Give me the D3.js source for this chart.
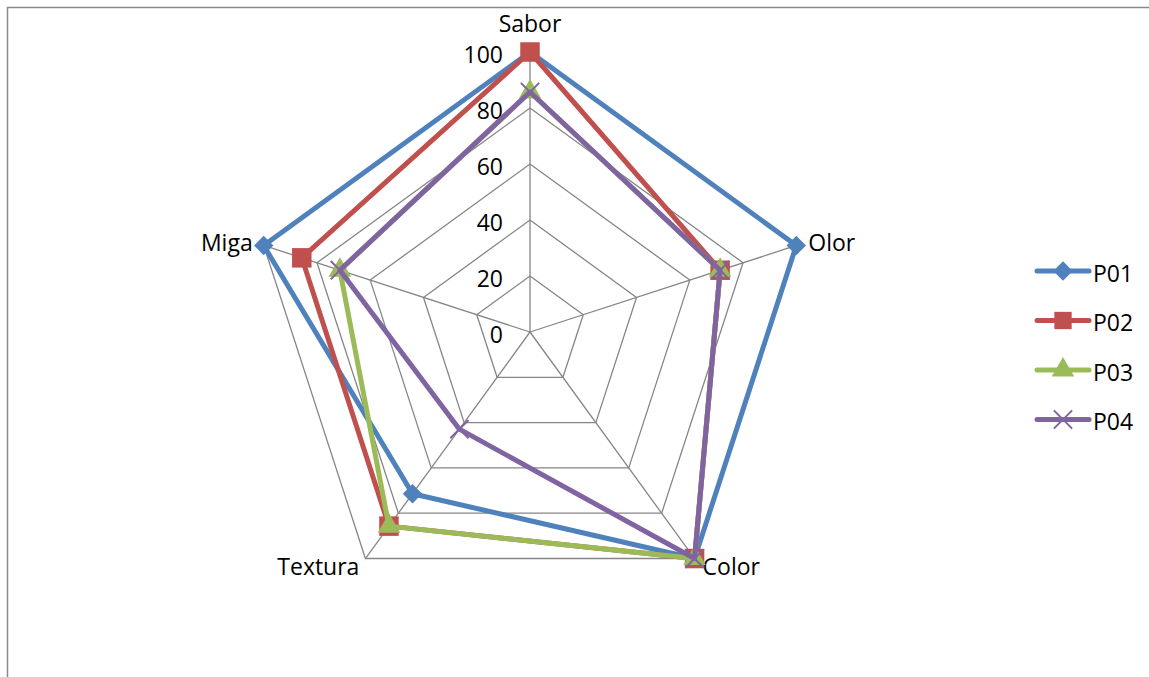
<!DOCTYPE html>
<html>
<head>
<meta charset="utf-8">
<script src="https://cdn.jsdelivr.net/npm/d3@7"></script>
<style>
  body { margin: 0; background: #fff; }
  svg text { font-family: "Open Sans", "Noto Sans", sans-serif; fill: #000; }
</style>
</head>
<body>
<div id="chart"></div>
<script>
// axes of the radar, clockwise from top
var categories = ["Sabor", "Olor", "Color", "Textura", "Miga"];
var tickValues = [0, 20, 40, 60, 80, 100];
var seriesNames = ["P01", "P02", "P03", "P04"];

var p01 = [100, 100, 100, 71.4, 100];
var p02 = [100, 71.4, 100, 85.7, 85.7];
var p03 = [85.7, 71.4, 100, 85.7, 71.4];
var p04 = [85.7, 71.4, 100, 42.9, 71.4];

var colors = ["#4F81BD", "#C0504D", "#9BBB59", "#8064A2"];
var symbols = [d3.symbolDiamond2, d3.symbolSquare, d3.symbolTriangle, d3.symbolX];

var width = 1149, height = 677;
var cx = 530, cy = 332, radius = 280;
var fontSize = 23;

var svg = d3.select("#chart")
  .append("svg")
    .attr("width", width)
    .attr("height", height);

// chart frame (runs off the page on right and bottom)
svg.append("rect")
  .attr("x", 7.5).attr("y", 7.5)
  .attr("width", 1200).attr("height", 700)
  .attr("fill", "none")
  .attr("stroke", "#8a8a8a")
  .attr("stroke-width", 1.5);

var r = d3.scaleLinear().domain([0, 100]).range([0, radius]);
var angle = d3.scalePoint().domain(categories).range([0, 2 * Math.PI * 4 / 5]);

function pt(cat, v) {
  var a = angle(cat);
  return [cx + r(v) * Math.sin(a), cy - r(v) * Math.cos(a)];
}

var g = svg.append("g");

// grid pentagons
tickValues.slice(1).forEach(function(t) {
  g.append("polygon")
    .attr("points", categories.map(function(c) { return pt(c, t).join(","); }).join(" "))
    .attr("fill", "none")
    .attr("stroke", "#868686")
    .attr("stroke-width", 1.3);
});

// spokes
categories.forEach(function(c) {
  var p = pt(c, 100);
  g.append("line")
    .attr("x1", cx).attr("y1", cy)
    .attr("x2", p[0]).attr("y2", p[1])
    .attr("stroke", "#868686")
    .attr("stroke-width", 1.3);
});

// value labels along the Sabor axis
g.selectAll(".tick")
  .data(tickValues)
  .enter().append("text")
    .attr("x", cx - 27)
    .attr("y", function(d) { return cy - r(d) + 2.5; })
    .attr("dy", "0.35em")
    .attr("text-anchor", "end")
    .attr("font-size", fontSize)
    .text(function(d) { return d; });

// category labels
var labelPos = {
  "Sabor":   { dx: 0,   dy: -28, anchor: "middle" },
  "Olor":    { dx: 12,  dy: -3,  anchor: "start" },
  "Color":   { dx: 8,   dy: 8.5, anchor: "start" },
  "Textura": { dx: -6,  dy: 8.5, anchor: "end" },
  "Miga":    { dx: -11, dy: -3,  anchor: "end" }
};
categories.forEach(function(c) {
  var p = pt(c, 100), o = labelPos[c];
  g.append("text")
    .attr("x", p[0] + o.dx)
    .attr("y", p[1] + o.dy)
    .attr("dy", "0.35em")
    .attr("text-anchor", o.anchor)
    .attr("font-size", fontSize)
    .text(c);
});

// series
var allSeries = [p01, p02, p03, p04];
var markerSize = [240, 380, 220, 220];

allSeries.forEach(function(vals, i) {
  var pts = categories.map(function(c, k) { return pt(c, vals[k]); });
  g.append("path")
    .attr("d", d3.line()(pts) + "Z")
    .attr("fill", "none")
    .attr("stroke", colors[i])
    .attr("stroke-width", 5)
    .attr("stroke-linejoin", "round");

  g.selectAll(".m" + i)
    .data(pts)
    .enter().append("path")
      .attr("transform", function(d) { return "translate(" + d[0] + "," + d[1] + ")"; })
      .attr("d", d3.symbol().type(symbols[i]).size(markerSize[i]))
      .attr("fill", i === 3 ? "none" : colors[i])
      .attr("stroke", colors[i])
      .attr("stroke-width", i === 3 ? 2 : 0);
});

// legend
var legend = svg.append("g").attr("transform", "translate(1035,271)");
seriesNames.forEach(function(name, i) {
  var row = legend.append("g").attr("transform", "translate(0," + (i * 49.5) + ")");
  row.append("line")
    .attr("x1", 2).attr("x2", 54)
    .attr("stroke", colors[i])
    .attr("stroke-width", 5)
    .attr("stroke-linecap", "round");
  row.append("path")
    .attr("transform", "translate(28,0)")
    .attr("d", d3.symbol().type(symbols[i]).size(i === 1 ? 300 : markerSize[i]))
    .attr("fill", i === 3 ? "none" : colors[i])
    .attr("stroke", colors[i])
    .attr("stroke-width", i === 3 ? 2 : 0);
  row.append("text")
    .attr("x", 58)
    .attr("y", 2.5)
    .attr("dy", "0.35em")
    .attr("font-size", fontSize)
    .text(name);
});
</script>
</body>
</html>
